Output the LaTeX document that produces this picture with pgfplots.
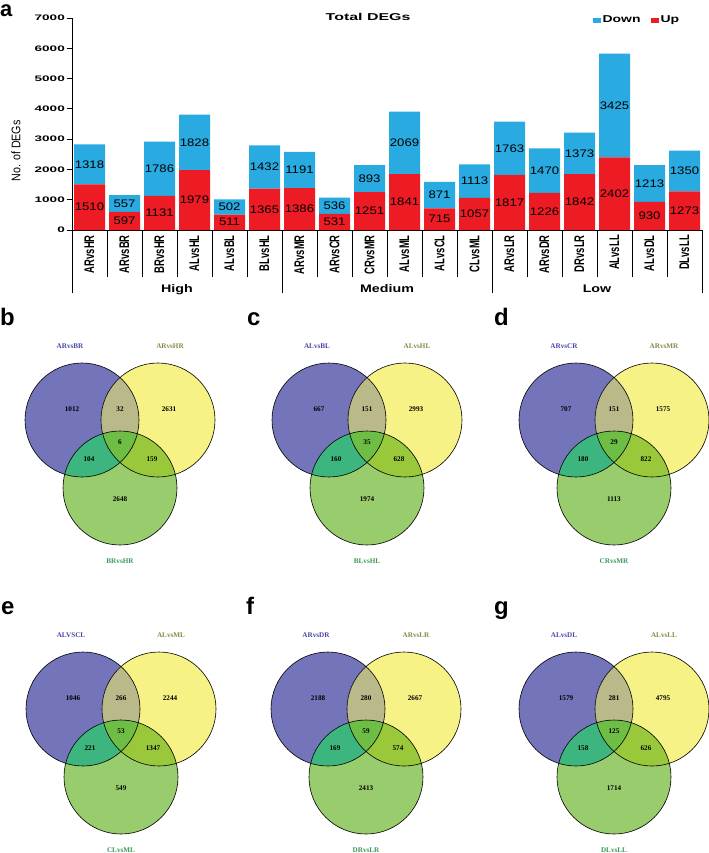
\documentclass[border=0pt]{standalone}
\usepackage{pgfplots}
\pgfplotsset{compat=1.18}
\usepackage{pgfplotstable}
\usepackage{fontspec}
\setmainfont{Liberation Sans}
\newfontfamily\fTick[FakeStretch=1.7]{Liberation Sans}
\newfontfamily\fCat[FakeStretch=0.68]{Liberation Sans}
\newfontfamily\fYl[FakeStretch=0.86]{Liberation Sans}
\newfontfamily\fNum[FakeStretch=1.2]{Liberation Sans}
\newfontfamily\fTitle[FakeStretch=1.6]{Liberation Sans}
\newfontfamily\fLeg[FakeStretch=1.4]{Liberation Sans}
\newfontfamily\fGrp[FakeStretch=1.3]{Liberation Sans}
\newfontfamily\fSerif{Liberation Serif}

\definecolor{upred}{HTML}{ED1C24}
\definecolor{downblue}{HTML}{29ABE2}
\definecolor{vB}{HTML}{7474BA}
\definecolor{vY}{HTML}{F7F286}
\definecolor{vG}{HTML}{98CC6C}
\definecolor{vBY}{HTML}{BAB98A}
\definecolor{vBG}{HTML}{3CB67E}
\definecolor{vYG}{HTML}{99C93B}
\definecolor{vT}{HTML}{6EBD45}
\definecolor{lB}{HTML}{4747A8}
\definecolor{lY}{HTML}{8A8845}
\definecolor{lG}{HTML}{3A9958}

\pgfplotstableread{
x up down
0 1510 1318
1 597 557
2 1131 1786
3 1979 1828
4 511 502
5 1365 1432
6 1386 1191
7 531 536
8 1251 893
9 1841 2069
10 715 871
11 1057 1113
12 1817 1763
13 1226 1470
14 1842 1373
15 2402 3425
16 930 1213
17 1273 1350
}\degtable

\pgfplotsset{barbase/.style={at={(72bp,-230bp)}, anchor=south west, scale only axis,
  width=630bp, height=212bp, xmin=-0.5, xmax=17.5, ymin=0, ymax=7000}}

\newcommand\setnums[7]{\def\nA{#1}\def\nB{#2}\def\nC{#3}\def\nD{#4}\def\nE{#5}\def\nF{#6}\def\nG{#7}}
\newcommand\venn[6]{%
\begin{axis}[at={(#1bp,-#2bp)}, anchor=origin, scale only axis, hide axis,
  width=216bp, height=259bp, xmin=-121, xmax=95, ymin=-115, ymax=144,
  y dir=reverse, clip=false]
\fill[vB] (axis cs:-38,0) circle[radius=57];
\fill[vY] (axis cs:38,0) circle[radius=57];
\fill[vG] (axis cs:0,68) circle[radius=57];
\begin{scope}
\clip (axis cs:38,0) circle[radius=57];
\fill[vYG] (axis cs:0,68) circle[radius=57];
\end{scope}
\begin{scope}
\clip (axis cs:-38,0) circle[radius=57];
\fill[vBY] (axis cs:38,0) circle[radius=57];
\fill[vBG] (axis cs:0,68) circle[radius=57];
\clip (axis cs:38,0) circle[radius=57];
\fill[vT] (axis cs:0,68) circle[radius=57];
\end{scope}
\draw[line width=0.6bp] (axis cs:-38,0) circle[radius=57];
\draw[line width=0.6bp] (axis cs:38,0) circle[radius=57];
\draw[line width=0.6bp] (axis cs:0,68) circle[radius=57];
\begin{scope}[every node/.style={font=\fSerif\bfseries\fontsize{7.2}{7.2}\selectfont, inner sep=0pt}]
\node at (axis cs:-48,-11) {\nA};
\node at (axis cs:0,-11) {\nB};
\node at (axis cs:49,-11) {\nC};
\node at (axis cs:0,22) {\nD};
\node at (axis cs:-31,39) {\nE};
\node at (axis cs:32,39) {\nF};
\node at (axis cs:0,79) {\nG};
\node[text=lB] at (axis cs:-50,-74) {#4};
\node[text=lY] at (axis cs:50,-74) {#5};
\node[text=lG] at (axis cs:0,141) {#6};
\end{scope}
\node[anchor=base west, inner sep=0pt, font=\bfseries\fontsize{24}{24}\selectfont] at (axis cs:-120,-95) {#3};
\end{axis}}

\begin{document}
\begin{tikzpicture}
\path[use as bounding box, fill=white] (0,0) rectangle (709bp,-853bp);

% panel a: stacked bars
\begin{axis}[barbase, ybar stacked, bar width=31bp,
  axis x line*=bottom, axis y line*=left,
  axis line style={black, line width=0.8bp},
  ytick={0,1000,...,7000},
  /pgf/number format/1000 sep={},
  /pgf/number format/assume math mode=true,
  tick align=outside, major tick length=5bp,
  ytick style={black, line width=0.8bp},
  yticklabel style={font=\fTick\bfseries\fontsize{8}{8}\selectfont, inner sep=2bp},
  xtick={0,...,17}, xtick style={draw=none},
  xticklabels={ARvsHR,ARvsBR,BRvsHR,ALvsHL,ALvsBL,BLvsHL,ARvsMR,ARvsCR,CRvsMR,ALvsML,ALvsCL,CLvsML,ARvsLR,ARvsDR,DRvsLR,ALvsLL,ALvsDL,DLvsLL},
  xticklabel style={rotate=90, anchor=east, inner sep=0pt, font=\fCat\bfseries\fontsize{14}{14}\selectfont},
  clip=false,
  legend image code/.code={\fill[#1] (0bp,-2.5bp) rectangle (8bp,2.5bp);},
  reverse legend,
  legend style={at={(rel axis cs:0.822,0.99)}, anchor=west, draw=none, fill=none,
    legend columns=2, font=\fLeg\bfseries\fontsize{10}{10}\selectfont,
    nodes={inner sep=1.5bp},
    /tikz/every even column/.append style={column sep=9bp}},
]
\addplot[fill=upred, draw=none] table[x=x, y=up] {\degtable};
\addplot[fill=downblue, draw=none] table[x=x, y=down] {\degtable};
\legend{Up,Down}
\pgfplotsinvokeforeach{-0.5,0.5,...,17.5}{\draw[line width=0.8bp] (axis cs:#1,0) -- ++(0pt,-47bp);}
\pgfplotsinvokeforeach{-0.5,5.5,11.5,17.5}{\draw[line width=0.8bp] (axis cs:#1,0) -- ++(0pt,-63bp);}
\node[anchor=base, font=\fGrp\bfseries\fontsize{11}{11}\selectfont] at (axis cs:2.5,0) [yshift=-62bp] {High};
\node[anchor=base, font=\fGrp\bfseries\fontsize{11}{11}\selectfont] at (axis cs:8.5,0) [yshift=-62bp] {Medium};
\node[anchor=base, font=\fGrp\bfseries\fontsize{11}{11}\selectfont] at (axis cs:14.5,0) [yshift=-62bp] {Low};
\node[font=\fTitle\bfseries\fontsize{10}{10}\selectfont] at (rel axis cs:0.47,1) [yshift=1bp] {Total DEGs};
\node[xshift=-56bp, rotate=90, font=\fYl\fontsize{12.5}{12.5}\selectfont] at (rel axis cs:0,0.373) {No. of DEGs};
\end{axis}

% value labels
\begin{axis}[barbase, hide axis, clip=false]
\addplot[draw=none, nodes near coords, point meta=explicit symbolic,
  every node near coord/.append style={anchor=center, text=black, inner sep=0pt, font=\fNum\fontsize{11}{11}\selectfont}]
  table[x=x, y expr=\thisrow{up}/2, meta=up] {\degtable};
\addplot[draw=none, nodes near coords, point meta=explicit symbolic,
  every node near coord/.append style={anchor=center, text=black, inner sep=0pt, font=\fNum\fontsize{11}{11}\selectfont}]
  table[x=x, y expr=\thisrow{up}+\thisrow{down}/2, meta=down] {\degtable};
\end{axis}

\node[anchor=base west, inner sep=0pt, font=\bfseries\fontsize{22}{22}\selectfont] at (0bp,-16bp) {a};

% Venn panels
\setnums{1012}{32}{2631}{6}{104}{159}{2648}
\venn{120}{420}{b}{ARvsBR}{ARvsHR}{BRvsHR}
\setnums{667}{151}{2993}{35}{160}{628}{1974}
\venn{367}{420}{c}{ALvsBL}{ALvsHL}{BLvsHL}
\setnums{707}{151}{1575}{29}{180}{822}{1113}
\venn{614}{420}{d}{ARvsCR}{ARvsMR}{CRvsMR}
\setnums{1046}{266}{2244}{53}{221}{1347}{549}
\venn{121}{709}{e}{ALVSCL}{ALvsML}{CLvsML}
\setnums{2188}{280}{2667}{59}{169}{574}{2413}
\venn{366}{709}{f}{ARvsDR}{ARvsLR}{DRvsLR}
\setnums{1579}{281}{4795}{125}{158}{626}{1714}
\venn{614}{709}{g}{ALvsDL}{ALvsLL}{DLvsLL}
\end{tikzpicture}
\end{document}
